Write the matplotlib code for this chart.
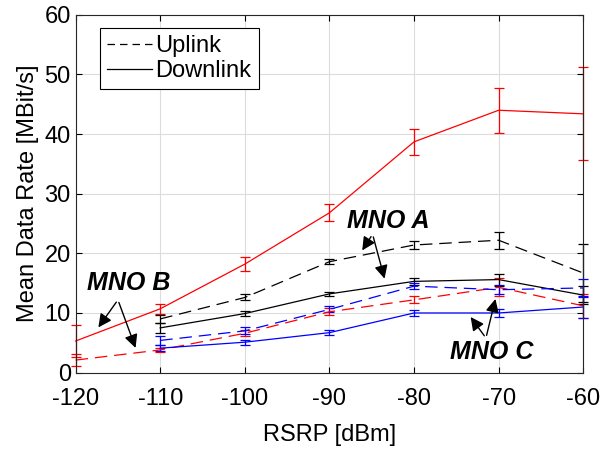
import matplotlib
matplotlib.use("Agg")
import matplotlib.pyplot as plt

# RSRP bins [dBm]
rsrp = [-120, -110, -100, -90, -80, -70, -60]
rsrp_a = [-110, -100, -90, -80, -70, -60]

# MNO A (black)
a_up = [9.0, 12.6, 18.6, 21.4, 22.2, 16.7]
a_up_err = [0.6, 0.5, 0.45, 0.7, 1.4, 4.9]
a_down = [7.5, 9.9, 13.2, 15.3, 15.6, 13.0]
a_down_err = [0.8, 0.4, 0.35, 0.6, 1.0, 1.5]

# MNO B (red)
b_up = [2.1, 3.8, 6.6, 10.2, 12.2, 14.3, 11.2]
b_up_err = [1.0, 0.4, 0.5, 0.6, 0.6, 1.5, 2.0]
b_down = [5.3, 10.7, 18.2, 26.8, 38.7, 44.0, 43.4]
b_down_err = [2.7, 0.8, 1.2, 1.4, 2.2, 3.8, 7.8]

# MNO C (blue)
c_up = [5.4, 7.0, 10.6, 14.5, 13.9, 14.2]
c_up_err = [0.8, 0.6, 0.5, 0.5, 0.8, 1.5]
c_down = [4.1, 5.1, 6.7, 10.0, 10.0, 11.0]
c_down_err = [0.5, 0.4, 0.4, 0.5, 0.7, 1.8]

plt.rcParams['font.family'] = ['Liberation Sans', 'DejaVu Sans']
plt.rcParams['axes.unicode_minus'] = False

fig = plt.figure(figsize=(6.05, 4.5), dpi=100)
ax = fig.add_axes([0.125, 0.172, 0.839, 0.795])

dash = (0, (10, 5.5))
lw = 0.9
cs = 3.5

def draw(x, y, err, color, ls):
    ax.errorbar(x, y, yerr=err, color=color, linestyle=ls, linewidth=lw,
                elinewidth=lw, capsize=cs, capthick=lw, clip_on=False)

draw(rsrp, b_down, b_down_err, "red", "-")
draw(rsrp, b_up, b_up_err, "red", dash)
draw(rsrp_a, a_up, a_up_err, "black", dash)
draw(rsrp_a, a_down, a_down_err, "black", "-")
draw(rsrp_a, c_up, c_up_err, "blue", dash)
draw(rsrp_a, c_down, c_down_err, "blue", "-")

# legend handles
up_h, = ax.plot([], [], color="black", linestyle=(0, (6, 4)), linewidth=lw)
down_h, = ax.plot([], [], color="black", linestyle="-", linewidth=lw)
leg = ax.legend([up_h, down_h], ["Uplink", "Downlink"], loc="upper left",
                bbox_to_anchor=(0.048, 0.964), fontsize=17, fancybox=False,
                framealpha=1, edgecolor="black", handlelength=1.9,
                handletextpad=0.15, borderpad=0.3, labelspacing=0.15,
                borderaxespad=0)
leg.get_frame().set_linewidth(0.8)

ax.set_xlim(-120, -60)
ax.set_ylim(0, 60)
ax.set_xticks(range(-120, -59, 10))
ax.set_yticks(range(0, 61, 10))
ax.grid(True, color="#dcdcdc", linewidth=0.8)
ax.set_axisbelow(True)
ax.tick_params(direction="in", top=True, right=True, labelsize=17, length=4, width=0.8)
ax.tick_params(axis="x", pad=11)
for s in ax.spines.values():
    s.set_linewidth(0.8)
    s.set_color("#262626")
ax.set_xlabel("RSRP [dBm]", fontsize=17, labelpad=10)
ax.set_ylabel("Mean Data Rate [MBit/s]", fontsize=17, labelpad=4)

arrow = dict(arrowstyle="-|>", color="black", lw=1.0, mutation_scale=20)
fnt = dict(fontsize=18, fontweight="bold", fontstyle="italic", ha="center", va="center")

ax.text(-83.0, 25.5, "MNO A", **fnt)
ax.annotate("", xy=(-86.3, 20.1), xytext=(-84.9, 23.2), arrowprops=arrow)
ax.annotate("", xy=(-83.4, 15.3), xytext=(-84.9, 23.2), arrowprops=arrow)

ax.text(-113.7, 15.1, "MNO B", **fnt)
ax.annotate("", xy=(-117.5, 7.2), xytext=(-115.0, 12.2), arrowprops=arrow)
ax.annotate("", xy=(-112.8, 3.7), xytext=(-115.0, 12.2), arrowprops=arrow)

ax.text(-70.8, 3.5, "MNO C", **fnt)
ax.annotate("", xy=(-73.5, 9.7), xytext=(-71.5, 5.8), arrowprops=arrow)
ax.annotate("", xy=(-70.3, 12.8), xytext=(-71.5, 5.8), arrowprops=arrow)

fig.savefig("out.png", dpi=100)
